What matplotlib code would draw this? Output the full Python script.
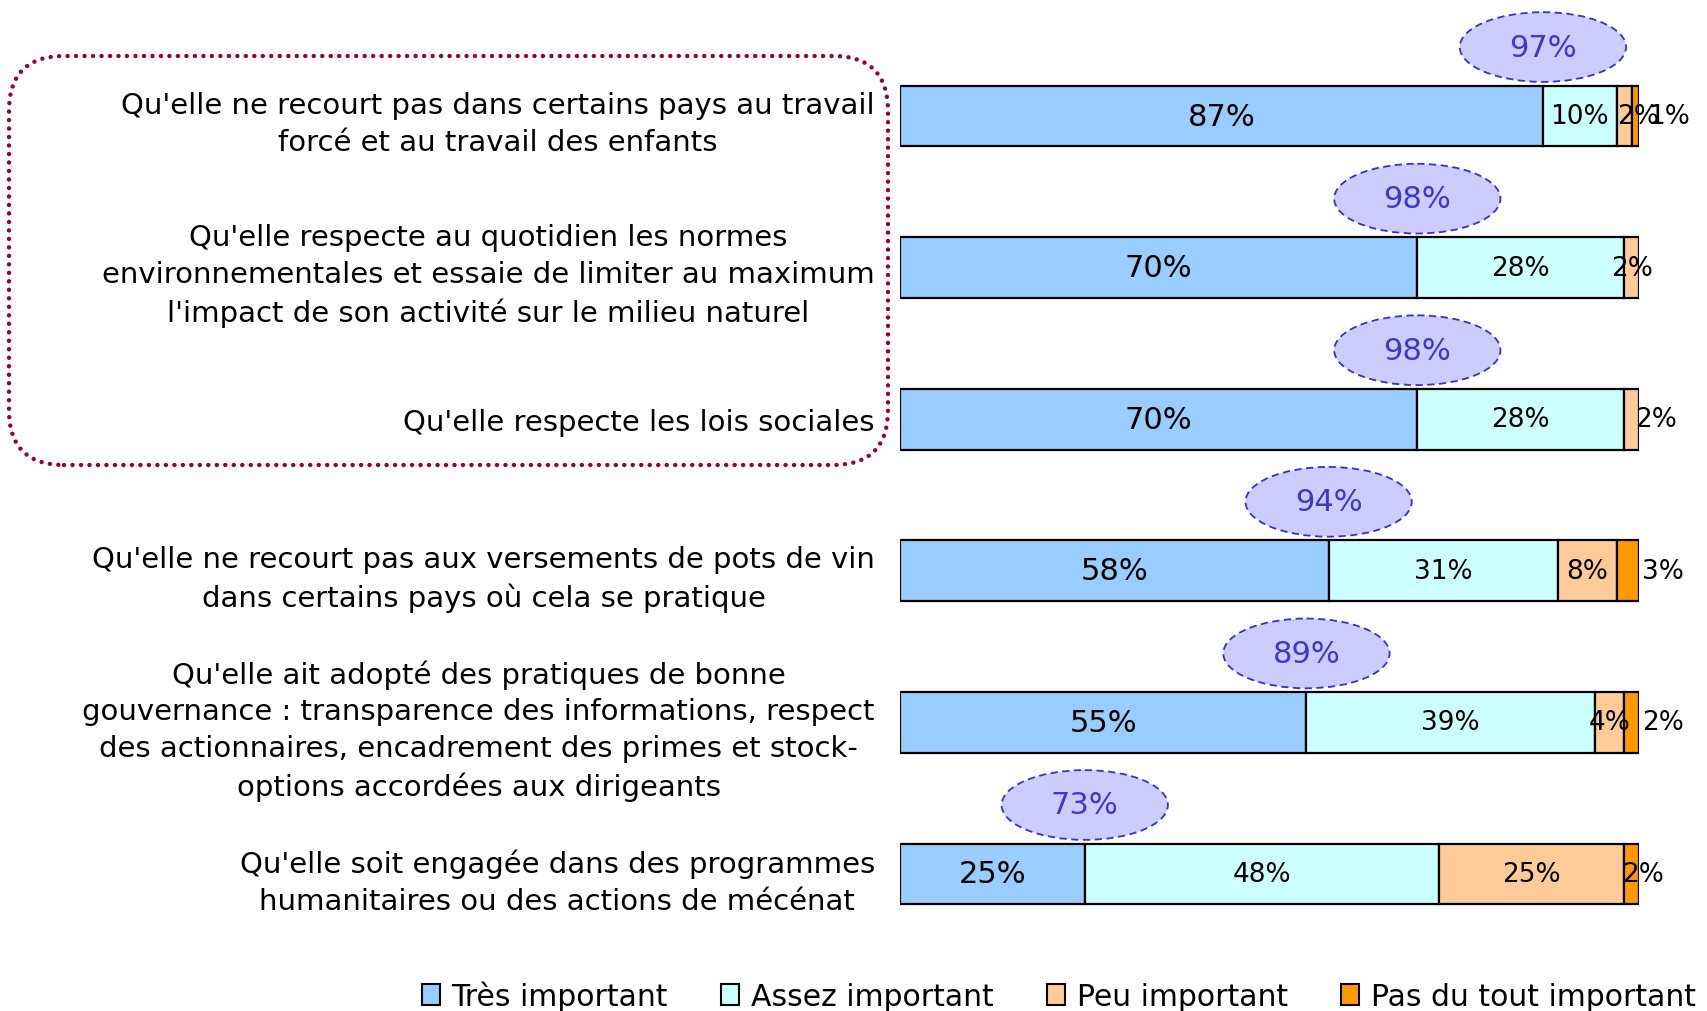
import matplotlib
matplotlib.use("Agg")
import matplotlib.pyplot as plt
from matplotlib.patches import Ellipse, FancyBboxPatch, Patch

categories = [
    "Qu'elle ne recourt pas dans certains pays au travail\nforcé et au travail des enfants",
    "Qu'elle respecte au quotidien les normes\nenvironnementales et essaie de limiter au maximum\nl'impact de son activité sur le milieu naturel",
    "Qu'elle respecte les lois sociales",
    "Qu'elle ne recourt pas aux versements de pots de vin\ndans certains pays où cela se pratique",
    "Qu'elle ait adopté des pratiques de bonne\ngouvernance : transparence des informations, respect\ndes actionnaires, encadrement des primes et stock-\noptions accordées aux dirigeants",
    "Qu'elle soit engagée dans des programmes\nhumanitaires ou des actions de mécénat",
]
series_names = ["Très important", "Assez important", "Peu important", "Pas du tout important"]
tres = [87, 70, 70, 58, 55, 25]
assez = [10, 28, 28, 31, 39, 48]
peu = [2, 2, 2, 8, 4, 25]
pas = [1, 0, 0, 3, 2, 2]
totals = [97, 98, 98, 94, 89, 73]

colors = ["#99CCFF", "#CCFFFF", "#FFCC99", "#FF9900"]
# pixel nudges for crowded labels: (row, series) -> dx
nudges = {(0, 2): 14, (0, 3): 34, (2, 2): 24, (3, 3): 35, (4, 3): 31, (5, 3): 11}

W, H = 1708, 1012
fig = plt.figure(figsize=(W / 100, H / 100), dpi=100)
ax = fig.add_axes([900 / W, (H - 950) / H, 739 / W, 950 / H])
ax.set_xlim(0, 100)
ax.set_ylim(5.495, -0.772)
for s in ax.spines.values():
    s.set_visible(False)
ax.set_xticks([])

data = [tres, assez, peu, pas]
y = list(range(len(categories)))
for r in y:
    left = 0
    for si, vals in enumerate(data):
        v = vals[r]
        if v <= 0:
            continue
        ax.barh(r, v, left=left, height=0.4, color=colors[si], edgecolor="black", linewidth=1.6, zorder=2)
        fs = 22 if si == 0 else 19
        dx = nudges.get((r, si), 0)
        ax.annotate(f"{v}%", (left + v / 2, r), xytext=(dx, 0), textcoords="offset pixels",
                    ha="center", va="center", fontsize=fs, color="black", zorder=5,
                    annotation_clip=False)
        left += v
    # ellipse with top-2 total
    e = Ellipse((tres[r], r - 0.455), width=22.5, height=0.46, facecolor="#CCCCFF",
                edgecolor="#3333CC", linestyle=(0, (4, 2.5)), linewidth=1.3, zorder=3, clip_on=False)
    ax.add_patch(e)
    ax.text(tres[r], r - 0.455, f"{totals[r]}%", ha="center", va="center", fontsize=22,
            color="#3A3ACC", zorder=4)

ax.set_yticks(y)
ax.set_yticklabels(categories, fontsize=21)
ax.tick_params(axis="y", length=0, pad=18)
for t in ax.get_yticklabels():
    t.set_multialignment("center")
    t.set_linespacing(1.4)

# dotted rounded frame
box = FancyBboxPatch((0.09, (H - 466) / 100), 8.79, (466 - 57) / 100,
                     boxstyle="round,pad=0,rounding_size=0.55",
                     transform=fig.dpi_scale_trans, facecolor="none", edgecolor="#990033",
                     linewidth=3.2, linestyle=(0, (0.01, 1.9)), capstyle="round")
box.set_capstyle("round")
fig.patches.append(box)

handles = [Patch(facecolor=c, edgecolor="black", linewidth=1.5) for c in colors]
fig.legend(handles, series_names, loc="center right", bbox_to_anchor=(1696 / W, 1 - 997 / H),
           ncol=4, frameon=False, fontsize=21.5, handlelength=0.6, handleheight=0.7,
           handletextpad=0.4, columnspacing=1.78, borderpad=0, borderaxespad=0)

fig.savefig("out.png", dpi=100, facecolor="white")
